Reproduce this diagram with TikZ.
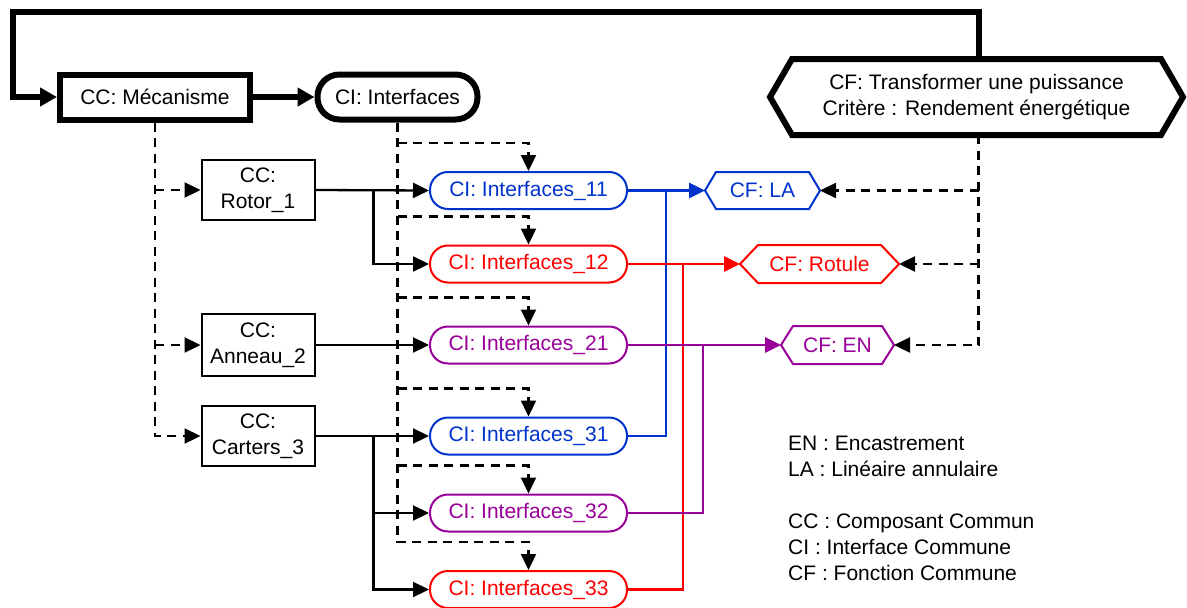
\documentclass[tikz,border=0pt]{standalone}
\usepackage{fontspec}
\setmainfont{Liberation Sans}
\usetikzlibrary{arrows.meta,calc}
\definecolor{ciblue}{RGB}{0,51,204}
\definecolor{cired}{RGB}{255,0,0}
\definecolor{cipurple}{RGB}{153,0,153}

\tikzset{
  every node/.style={font=\fontsize{21}{26}\selectfont},
  ccbox/.style={draw, line width=2pt, minimum width=113pt, minimum height=60pt,
    align=center, inner sep=0pt},
  cibox/.style={draw, line width=2pt, rounded corners=18pt, minimum width=197pt,
    minimum height=37pt, inner sep=0pt},
  cfbox/.style={outer sep=0pt, inner sep=0pt, align=center},
  tip/.style={-{Triangle[length=16pt,width=15pt]}},
  wire/.style={line width=2.3pt},
  flow/.style={wire, tip},
  cwire/.style={line width=2.8pt},
  cflow/.style={cwire, tip},
  dsh/.style={line width=2.3pt, dash pattern=on 9pt off 6.5pt},
  dsharr/.style={dsh, tip},
  heavy/.style={line width=6pt},
  heavyarr/.style={heavy, -{Triangle[length=17pt,width=18pt]}},
}
% outline with pointed ends around a plain node
\newcommand\hexoutline[3]{%
  \draw[#3] (#1.west) -- ([xshift=#2]#1.north west) -- ([xshift=-#2]#1.north east)
    -- (#1.east) -- ([xshift=-#2]#1.south east) -- ([xshift=#2]#1.south west) -- cycle;}

\begin{document}
\begin{tikzpicture}[x=1pt,y=-1pt]
\useasboundingbox (0,0) rectangle (1187,608);

% top level
\node[draw, line width=6pt, minimum width=190pt, minimum height=45pt, inner sep=0pt] (mec) at (155,97) {CC: Mécanisme};
\node[draw, line width=6pt, rounded corners=22pt, minimum width=160pt, minimum height=45pt, inner sep=0pt] (cii) at (397.5,97) {CI: Interfaces};
\node[cfbox, minimum width=413pt, minimum height=76pt] (cf) at (976.5,97) {CF: Transformer une puissance\\Critère : Rendement énergétique};
\hexoutline{cf}{22pt}{line width=6pt}

% components
\node[ccbox] (rotor) at (258,190) {CC:\\Rotor\_1};
\node[ccbox, minimum height=62pt] (anneau) at (258,345) {CC:\\Anneau\_2};
\node[ccbox] (carters) at (258,436) {CC:\\Carters\_3};

% interfaces
\node[cibox, draw=ciblue, text=ciblue] (ci11) at (528.5,190.5) {CI: Interfaces\_11};
\node[cibox, draw=cired, text=cired] (ci12) at (528.5,264) {CI: Interfaces\_12};
\node[cibox, draw=cipurple, text=cipurple] (ci21) at (528.5,345) {CI: Interfaces\_21};
\node[cibox, draw=ciblue, text=ciblue] (ci31) at (528.5,436) {CI: Interfaces\_31};
\node[cibox, draw=cipurple, text=cipurple] (ci32) at (528.5,513) {CI: Interfaces\_32};
\node[cibox, draw=cired, text=cired] (ci33) at (528.5,589.5) {CI: Interfaces\_33};

% functions
\node[cfbox, text=ciblue, minimum width=115pt, minimum height=37pt] (la) at (762.5,190.5) {CF: LA};
\hexoutline{la}{11pt}{line width=2pt, ciblue}
\node[cfbox, text=cired, minimum width=159pt, minimum height=38pt] (rot) at (819.5,264) {CF: Rotule};
\hexoutline{rot}{18pt}{line width=2pt, cired}
\node[cfbox, text=cipurple, minimum width=113pt, minimum height=38pt] (en) at (837.5,345) {CF: EN};
\hexoutline{en}{12pt}{line width=2pt, cipurple}

% legend
\node[anchor=north west, inner sep=0pt, align=left] (legend) at (788,435.5)
  {EN : Encastrement\\LA : Linéaire annulaire\\[26pt]CC : Composant Commun\\CI : Interface Commune\\CF : Fonction Commune};

% heavy loop and top arrow
\coordinate (loopL) at (13,12);
\draw[heavyarr] ([xshift=2pt]cf.north) |- (loopL) |- (mec.west);
\draw[heavyarr] (mec.east) -- (cii.west);

% dashed decomposition of the mechanism
\draw[dsharr] (mec.south) |- (carters.west);
\draw[dsharr] (mec.south |- rotor.west) -- (rotor.west);
\draw[dsharr] (mec.south |- anneau.west) -- (anneau.west);

% dashed decomposition of the interfaces
\foreach \n in {11,12,21,31,32}{
  \coordinate (b\n) at ([yshift=28pt]ci\n.north);
  \draw[dsharr] (cii.south |- b\n) -| (ci\n.north);
}
\coordinate (b33) at ([yshift=28pt]ci33.north);
\draw[dsharr] (cii.south) -- (cii.south |- b33) -| (ci33.north);

% dashed decomposition of the function
\draw[dsharr] ([xshift=2pt]cf.south) |- (en.east);
\draw[dsharr] ([xshift=2pt]cf.south |- la.east) -- (la.east);
\draw[dsharr] ([xshift=2pt]cf.south |- rot.east) -- (rot.east);

% components to interfaces
\coordinate (jr) at ([xshift=58pt]rotor.east);
\coordinate (jc) at ([xshift=58pt]carters.east);
\draw[flow] (rotor.east) -- (ci11.west);
\draw[flow] (jr) |- (ci12.west);
\draw[flow] (anneau.east) -- (ci21.west);
\draw[flow] (carters.east) -- (ci31.west);
\draw[flow] (jc) |- (ci32.west);
\draw[flow] (jc) |- (ci33.west);

% interfaces to functions
\coordinate (jb) at (666,190.5);
\coordinate (jd) at (683,264);
\coordinate (jp) at (703,345);
\draw[cflow, ciblue] (ci11.east) -- (la.west);
\draw[cwire, ciblue] (ci31.east) -| (jb);
\draw[cflow, cired] (ci12.east) -- (rot.west);
\draw[cwire, cired] (ci33.east) -| (jd);
\draw[cflow, cipurple] (ci21.east) -- (en.west);
\draw[cwire, cipurple] (ci32.east) -| (jp);
\end{tikzpicture}
\end{document}
